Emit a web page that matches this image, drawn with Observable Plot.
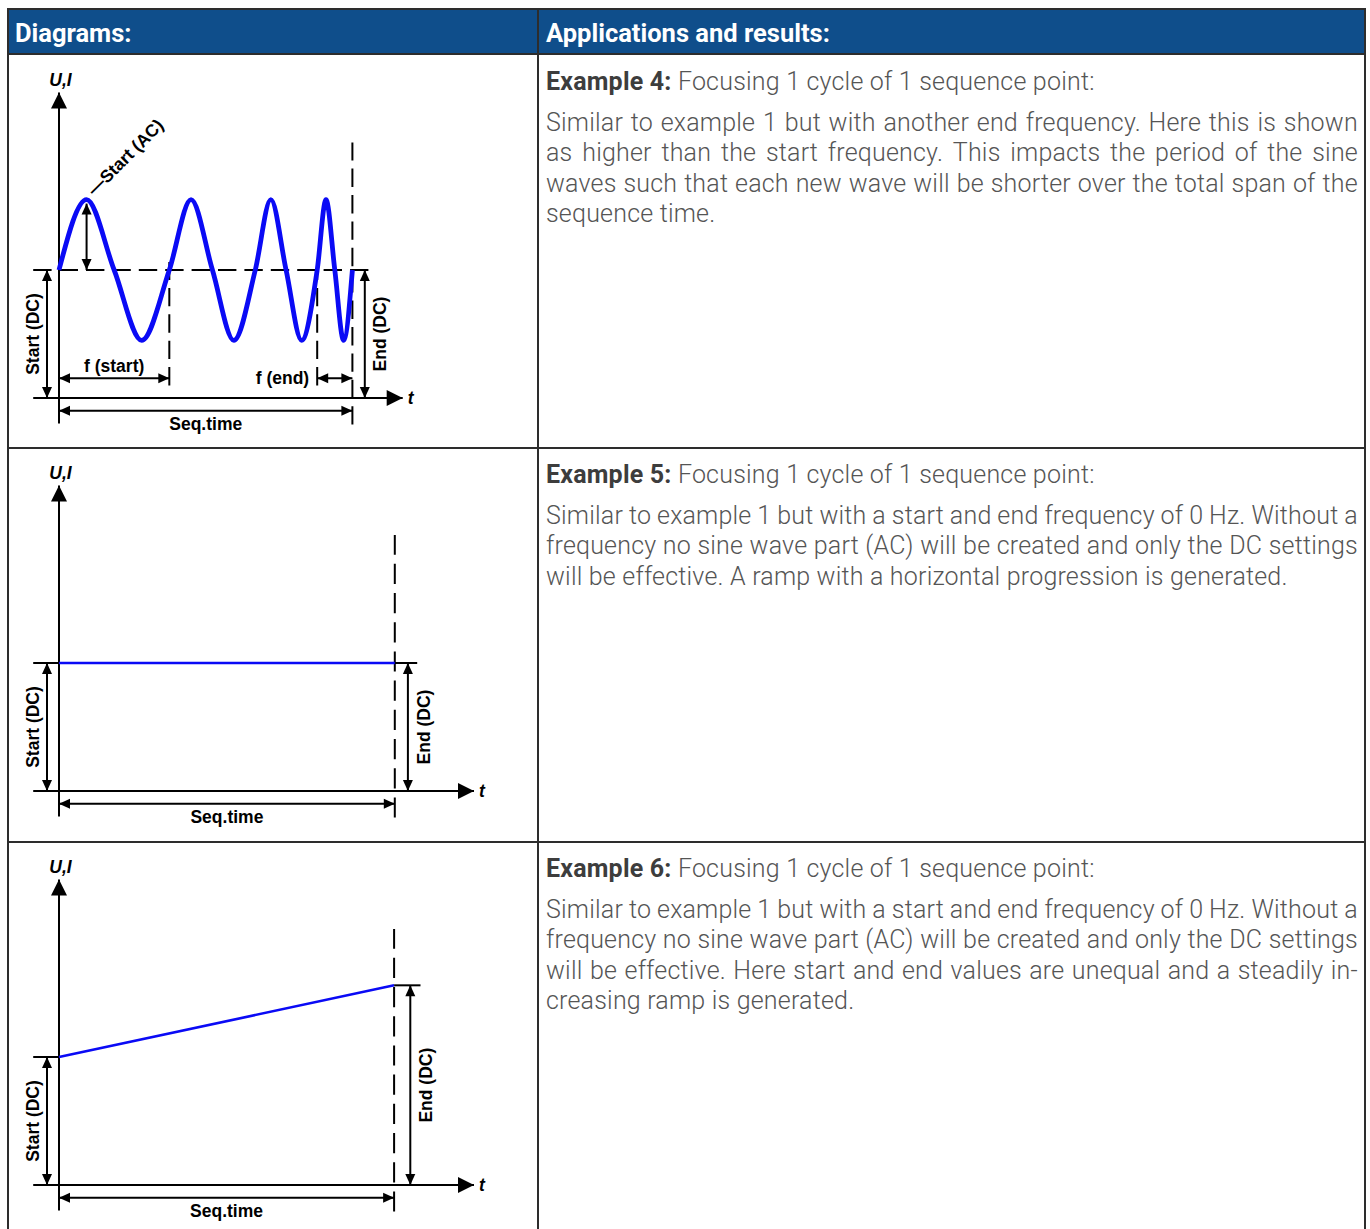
<!DOCTYPE html>
<html>
<head>
<meta charset="utf-8">
<script src="https://cdn.jsdelivr.net/npm/d3@7"></script>
<script src="https://cdn.jsdelivr.net/npm/@observablehq/plot@0.6"></script>
<style>
html,body{margin:0;padding:0;background:#fff;}
#page{position:relative;width:1370px;height:1229px;overflow:hidden;font-family:Roboto,"Noto Sans",sans-serif;}
.hdr{position:absolute;top:10px;height:43px;line-height:47px;background:#0f4e8b;color:#fff;font-weight:700;font-size:25.5px;box-sizing:border-box;white-space:nowrap;}
.bd{position:absolute;background:#2d2d2d;z-index:5;}
.cell{position:absolute;left:546px;width:812px;font-size:25px;letter-spacing:0.2px;color:#555;font-weight:300;}
.ttl{height:30px;line-height:30px;white-space:nowrap;}
.ttl b{font-weight:700;color:#3d3d3d;}
.para{margin-top:10.75px;}
.ln{height:30.5px;line-height:30.5px;white-space:nowrap;}
.jl{display:flex;justify-content:space-between;}
.diag{position:absolute;left:0;width:537px;}
</style>
</head>
<body>
<div id="page"></div>
<script>
// ---------- texts ----------
const headerTitles = ["Diagrams:", "Applications and results:"];
const exampleNames = ["Example 4:", "Example 5:", "Example 6:"];
const exampleIntro = "Focusing 1 cycle of 1 sequence point:";
const ex4Text = [
  "Similar to example 1 but with another end frequency. Here this is shown",
  "as higher than the start frequency. This impacts the period of the sine",
  "waves such that each new wave will be shorter over the total span of the",
  "sequence time."
];
const ex5Text = [
  "Similar to example 1 but with a start and end frequency of 0 Hz. Without a",
  "frequency no sine wave part (AC) will be created and only the DC settings",
  "will be effective. A ramp with a horizontal progression is generated."
];
const ex6Text = [
  "Similar to example 1 but with a start and end frequency of 0 Hz. Without a",
  "frequency no sine wave part (AC) will be created and only the DC settings",
  "will be effective. Here start and end values are unequal and a steadily in-",
  "creasing ramp is generated."
];
const axisNames = ["U,I", "t"];
const dcNames = ["Start (DC)", "End (DC)"];
const seqName = "Seq.time";
const fNames = ["f (start)", "f (end)"];
const acName = "\u2014Start (AC)";

// ---------- diagram data (t in % of Seq.time, v in relative units) ----------
const seqTime = 100;
// Example 4: key points of the swept sine (zero crossings, peaks, troughs)
const ex4WaveT = [0, 9.4, 18.8, 28.2, 37.6, 45.0, 52.3, 59.6, 66.9, 72.2, 77.4, 82.7, 88.0, 91.0, 94.0, 97.0, 100];
const ex4WaveV = [50, 77.5, 50, 22.5, 50, 77.5, 50, 22.5, 50, 77.5, 50, 22.5, 50, 77.5, 50, 22.5, 50];
const ex4StartDC = 50, ex4EndDC = 50, ex4Peak = 77.5, ex4PeakT = 9.4;
const ex4FStartPeriod = [0, 37.6];
const ex4FEndPeriod = [88.0, 100];
// Example 5: flat ramp
const ex5RampT = [0, 100];
const ex5RampV = [50, 50];
// Example 6: rising ramp
const ex6RampT = [0, 100];
const ex6RampV = [50, 78];

// ---------- layout ----------
const page = document.getElementById("page");
const rowTops = [55, 448, 842];
const LBL_FONT = "'Liberation Sans', Arial, sans-serif";

function el(tag, cls, style, html) {
  const e = document.createElement(tag);
  if (cls) e.className = cls;
  if (style) e.style.cssText = style;
  if (html != null) e.innerHTML = html;
  page.appendChild(e);
  return e;
}

// headers
el("div", "hdr", "left:9px;width:528px;padding-left:6px;", headerTitles[0]);
el("div", "hdr", "left:539px;width:825px;padding-left:7px;", headerTitles[1]);

// borders
el("div", "bd", "left:7px;top:8px;width:1359px;height:2px;");
el("div", "bd", "left:7px;top:53px;width:1359px;height:2px;");
el("div", "bd", "left:7px;top:447px;width:1359px;height:2px;");
el("div", "bd", "left:7px;top:841px;width:1359px;height:2px;");
el("div", "bd", "left:7px;top:8px;width:2px;height:1230px;");
el("div", "bd", "left:537px;top:8px;width:2px;height:1230px;");
el("div", "bd", "left:1364px;top:8px;width:2px;height:1230px;");

// right column texts
const paras = [ex4Text, ex5Text, ex6Text];
paras.forEach((lines, i) => {
  const c = el("div", "cell", `top:${rowTops[i] + 12}px;`);
  const t = document.createElement("div");
  t.className = "ttl";
  t.innerHTML = `<b>${exampleNames[i]}</b> ${exampleIntro}`;
  c.appendChild(t);
  const p = document.createElement("div");
  p.className = "para";
  lines.forEach((ln, j) => {
    const d = document.createElement("div");
    const last = j === lines.length - 1;
    d.className = last ? "ln" : "ln jl";
    if (last) d.textContent = ln;
    else ln.split(" ").forEach(w => { const s = document.createElement("span"); s.textContent = w; d.appendChild(s); });
    p.appendChild(d);
  });
  c.appendChild(p);
});

// ---------- arrowhead symbols ----------
function head(dx, dy, L, W) {
  return {
    draw(ctx) {
      const qx = -dy, qy = dx;
      ctx.moveTo(0, 0);
      ctx.lineTo(-dx * L + qx * W / 2, -dy * L + qy * W / 2);
      ctx.lineTo(-dx * L - qx * W / 2, -dy * L - qy * W / 2);
      ctx.closePath();
    }
  };
}
const BIG = 16, SL = 11, SW = 10;
const dirs = {up: [0, -1], down: [0, 1], left: [-1, 0], right: [1, 0]};

// ---------- diagram builder ----------
const diagCfgs = [
  {top: rowTops[0], x0: 58.5, x1: 351.9, tipExt: 50.3, endArrow: 12.4, rightExt: 20, kind: "sine",
   line: ex4WaveT.map((t, i) => ({t, v: ex4WaveV[i]})), startDC: ex4StartDC, endDC: ex4EndDC},
  {top: rowTops[1], x0: 58.5, x1: 394.3, tipExt: 79.2, endArrow: 13.1, rightExt: 22.4, kind: "ramp",
   line: ex5RampT.map((t, i) => ({t, v: ex5RampV[i]})), startDC: ex5RampV[0], endDC: ex5RampV[ex5RampV.length - 1]},
  {top: rowTops[2], x0: 58.5, x1: 393.6, tipExt: 79.9, endArrow: 16.2, rightExt: 26.4, kind: "ramp",
   line: ex6RampT.map((t, i) => ({t, v: ex6RampV[i]})), startDC: ex6RampV[0], endDC: ex6RampV[ex6RampV.length - 1]}
];

function diagram(cfg) {
  const kx = (cfg.x1 - cfg.x0) / seqTime;
  const ky = 2.56, Y0 = 342.5;
  const px = p => p / kx, py = p => p / ky;
  const yTop = py(305.5), yBot = -py(25.6), seqY = -py(12.7);
  const xLeft = -px(25.8), xTip = seqTime + px(cfg.tipExt);
  const sdx = -px(12), edx = seqTime + px(cfg.endArrow);

  const solid = [
    {x1: 0, y1: yBot, x2: 0, y2: yTop},
    {x1: xLeft, y1: 0, x2: xTip, y2: 0},
    {x1: sdx, y1: 0, x2: sdx, y2: cfg.startDC},
    {x1: edx, y1: 0, x2: edx, y2: cfg.endDC},
    {x1: 0, y1: seqY, x2: seqTime, y2: seqY}
  ];
  // dashed verticals drawn bottom-up so a dash starts at the bottom end
  const dashed = [{x1: seqTime, y1: yBot - py(1), x2: seqTime, y2: py(305.5 - 49.5)}];
  const heads = {
    bigUp: [{t: 0, v: yTop}], bigRight: [{t: xTip, v: 0}],
    up: [{t: sdx, v: cfg.startDC}, {t: edx, v: cfg.endDC}],
    down: [{t: sdx, v: 0}, {t: edx, v: 0}],
    left: [{t: 0, v: seqY}], right: [{t: seqTime, v: seqY}]
  };
  const texts = [];
  const tf = {fontFamily: LBL_FONT, fontWeight: "bold", fontSize: 17.5, fill: "black"};
  texts.push(Plot.text([{t: 0, v: yTop, s: axisNames[0]}], {x: "t", y: "v", text: "s", ...tf, fontStyle: "italic", textAnchor: "middle", lineAnchor: "bottom", dx: 1.5, dy: -6.7}));
  texts.push(Plot.text([{t: xTip, v: 0, s: axisNames[1]}], {x: "t", y: "v", text: "s", ...tf, fontStyle: "italic", textAnchor: "start", lineAnchor: "middle", dx: 5}));
  texts.push(Plot.text([{t: sdx, v: cfg.startDC / 2, s: dcNames[0]}], {x: "t", y: "v", text: "s", ...tf, rotate: -90, textAnchor: "middle", lineAnchor: "middle", dx: -13.8}));
  texts.push(Plot.text([{t: edx, v: cfg.endDC / 2, s: dcNames[1]}], {x: "t", y: "v", text: "s", ...tf, rotate: -90, textAnchor: "middle", lineAnchor: "middle", dx: 16}));
  texts.push(Plot.text([{t: seqTime / 2, v: seqY, s: seqName}], {x: "t", y: "v", text: "s", ...tf, textAnchor: "middle", lineAnchor: "top", dy: 7}));

  if (cfg.kind === "sine") {
    const fY = py(19.8);
    dashed.length = 0;
    dashed.push({x1: seqTime, y1: yBot - py(1), x2: seqTime, y2: py(305.5 - 50)});
    dashed.push({x1: xLeft, y1: cfg.startDC, x2: seqTime + px(cfg.rightExt), y2: cfg.endDC});
    dashed.push({x1: ex4FStartPeriod[1], y1: py(12.5), x2: ex4FStartPeriod[1], y2: py(136)});
    dashed.push({x1: ex4FEndPeriod[0], y1: py(12.5), x2: ex4FEndPeriod[0], y2: py(136)});
    solid.push({x1: ex4PeakT, y1: cfg.startDC, x2: ex4PeakT, y2: ex4Peak - py(4)});
    solid.push({x1: ex4FStartPeriod[0], y1: fY, x2: ex4FStartPeriod[1], y2: fY});
    solid.push({x1: ex4FEndPeriod[0], y1: fY, x2: ex4FEndPeriod[1], y2: fY});
    heads.up.push({t: ex4PeakT, v: ex4Peak - py(4)});
    heads.down.push({t: ex4PeakT, v: cfg.startDC});
    heads.left.push({t: ex4FStartPeriod[0], v: fY}, {t: ex4FEndPeriod[0], v: fY});
    heads.right.push({t: ex4FStartPeriod[1], v: fY}, {t: ex4FEndPeriod[1], v: fY});
    texts.push(Plot.text([{t: (ex4FStartPeriod[0] + ex4FStartPeriod[1]) / 2, v: fY, s: fNames[0]}], {x: "t", y: "v", text: "s", ...tf, textAnchor: "middle", lineAnchor: "bottom", dy: -6.7}));
    texts.push(Plot.text([{t: ex4FEndPeriod[0], v: fY, s: fNames[1]}], {x: "t", y: "v", text: "s", ...tf, textAnchor: "end", lineAnchor: "middle", dx: -8}));
    texts.push(Plot.text([{t: ex4PeakT, v: ex4Peak, s: acName}], {x: "t", y: "v", text: "s", ...tf, rotate: -45, textAnchor: "start", lineAnchor: "middle", dx: 4, dy: -7}));
  } else {
    solid.push({x1: xLeft, y1: cfg.startDC, x2: 0, y2: cfg.startDC});
    solid.push({x1: seqTime, y1: cfg.endDC, x2: seqTime + px(cfg.rightExt), y2: cfg.endDC});
  }

  const lineStroke = cfg.kind === "sine" ? 4.8 : 2.6;
  const marks = [
    Plot.link(dashed, {x1: "x1", y1: "y1", x2: "x2", y2: "y2", stroke: "black", strokeWidth: 2, strokeDasharray: cfg.kind === "sine" ? "18.4,8" : "20.2,9"}),
    Plot.link(solid, {x1: "x1", y1: "y1", x2: "x2", y2: "y2", stroke: "black", strokeWidth: 2}),
    Plot.line(cfg.line, {x: "t", y: "v", stroke: "#0a0af5", strokeWidth: lineStroke, curve: cfg.kind === "sine" ? "monotone-x" : "linear", strokeLinecap: "butt"}),
    Plot.dot(heads.bigUp, {x: "t", y: "v", symbol: head(...dirs.up, BIG, BIG), fill: "black", stroke: "none"}),
    Plot.dot(heads.bigRight, {x: "t", y: "v", symbol: head(...dirs.right, BIG, BIG), fill: "black", stroke: "none"}),
    Plot.dot(heads.up, {x: "t", y: "v", symbol: head(...dirs.up, SL, SW), fill: "black", stroke: "none"}),
    Plot.dot(heads.down, {x: "t", y: "v", symbol: head(...dirs.down, SL, SW), fill: "black", stroke: "none"}),
    Plot.dot(heads.left, {x: "t", y: "v", symbol: head(...dirs.left, SL, SW), fill: "black", stroke: "none"}),
    Plot.dot(heads.right, {x: "t", y: "v", symbol: head(...dirs.right, SL, SW), fill: "black", stroke: "none"}),
    ...texts
  ];

  return Plot.plot({
    width: 537, height: 392, margin: 0,
    style: {background: "transparent", overflow: "visible"},
    x: {type: "linear", domain: [0, seqTime], range: [cfg.x0, cfg.x1], axis: null},
    y: {type: "linear", domain: [0, 50], range: [Y0, Y0 - 50 * ky], axis: null},
    marks
  });
}

diagCfgs.forEach(cfg => {
  const holder = el("div", "diag", `top:${cfg.top}px;height:392px;`);
  holder.appendChild(diagram(cfg));
});
</script>
</body>
</html>
